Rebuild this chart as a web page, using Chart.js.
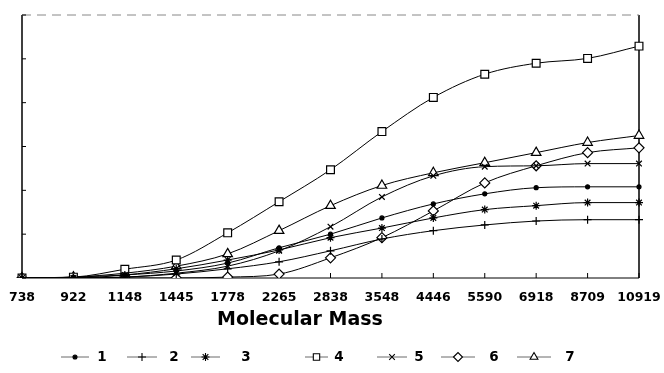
<!DOCTYPE html>
<html>
<head>
<meta charset="utf-8">
<script src="https://cdn.jsdelivr.net/npm/chart.js@4.4.1/dist/chart.umd.min.js"></script>
<style>
  html, body { margin: 0; padding: 0; background: #fff; }
  #wrap { width: 664px; height: 373px; }
</style>
</head>
<body>
<div id="wrap"><canvas id="chart" width="664" height="373"></canvas></div>
<script>
// molecular mass categories (x axis)
const massLabels = ["738", "922", "1148", "1445", "1778", "2265", "2838",
  "3548", "4446", "5590", "6918", "8709", "10919"]

// series values (y axis has no labels, 6 tick steps)
const series1 = [0, 0.02, 0.07, 0.16, 0.34, 0.69, 1.0, 1.37, 1.69, 1.92, 2.06, 2.08, 2.08]
const series2 = [0, 0, 0.02, 0.09, 0.21, 0.37, 0.62, 0.89, 1.08, 1.21, 1.30, 1.33, 1.33]
const series3 = [0, 0, 0.07, 0.21, 0.41, 0.64, 0.92, 1.14, 1.37, 1.56, 1.65, 1.72, 1.72]
const series4 = [0, 0.02, 0.2, 0.41, 1.03, 1.74, 2.47, 3.34, 4.12, 4.65, 4.9, 5.01, 5.29]
const series5 = [0, 0, 0.02, 0.11, 0.27, 0.62, 1.17, 1.85, 2.33, 2.54, 2.56, 2.61, 2.61]
const series6 = [0, 0, 0, 0, 0.02, 0.09, 0.46, 0.92, 1.53, 2.17, 2.56, 2.86, 2.97]
const series7 = [0, 0.02, 0.11, 0.27, 0.55, 1.08, 1.65, 2.11, 2.40, 2.63, 2.86, 3.09, 3.25]

const seriesNames = ["1", "2", "3", "4", "5", "6", "7"]
const yTicks = [0, 1, 2, 3, 4, 5, 6]

const markers = [
  { style: "circle", radius: 2, fill: "#000" },
  { style: "cross", radius: 4, fill: "#000" },
  { style: "star", radius: 4, fill: "#000" },
  { style: "rect", radius: 5.5, fill: "#fff" },
  { style: "crossRot", radius: 4, fill: "#000" },
  { style: "rectRot", radius: 5, fill: "#fff" },
  { style: "triangle", radius: 5.5, fill: "#fff" },
]

const allSeries = [series1, series2, series3, series4, series5, series6, series7]

const datasets = allSeries.map((values, i) => ({
  label: seriesNames[i],
  data: values,
  borderColor: "#000",
  borderWidth: 1,
  cubicInterpolationMode: "monotone",
  pointStyle: markers[i].style,
  pointRadius: markers[i].radius,
  pointBackgroundColor: markers[i].fill,
  pointBorderColor: "#000",
  pointBorderWidth: 1.2,
  fill: false,
}))

// frame, inward ticks, axis title and the old-style legend row
const decorations = {
  id: "decorations",
  beforeDatasetsDraw(chart) {
    const { ctx, chartArea: a, scales } = chart
    ctx.save()
    ctx.strokeStyle = "#000"
    // left + right axis lines
    ctx.lineWidth = 1.5
    ctx.beginPath()
    ctx.moveTo(a.left, a.top); ctx.lineTo(a.left, a.bottom)
    ctx.moveTo(a.right, a.top); ctx.lineTo(a.right, a.bottom)
    ctx.stroke()
    // bottom line
    ctx.lineWidth = 1
    ctx.beginPath()
    ctx.moveTo(a.left, a.bottom); ctx.lineTo(a.right, a.bottom)
    ctx.stroke()
    // faint top line
    ctx.strokeStyle = "#888"
    ctx.setLineDash([9, 6])
    ctx.beginPath()
    ctx.moveTo(a.left, a.top); ctx.lineTo(a.right, a.top)
    ctx.stroke()
    ctx.setLineDash([])
    ctx.strokeStyle = "#000"
    // y ticks pointing inward
    ctx.beginPath()
    yTicks.forEach(v => {
      const y = scales.y.getPixelForValue(v)
      ctx.moveTo(a.left, y); ctx.lineTo(a.left + 4, y)
    })
    // x ticks pointing up
    massLabels.forEach((_, i) => {
      const x = scales.x.getPixelForValue(i)
      ctx.moveTo(x, a.bottom); ctx.lineTo(x, a.bottom - 5)
    })
    ctx.stroke()
    ctx.restore()
  },
  afterDraw(chart) {
    const { ctx } = chart
    const helpers = Chart.helpers
    ctx.save()
    ctx.fillStyle = "#000"
    ctx.textAlign = "center"
    ctx.textBaseline = "middle"
    ctx.font = "bold 19px 'DejaVu Sans'"
    ctx.fillText("Molecular Mass", 300, 320)

    // legend: short line with the marker, then the name
    const lineStart = [61, 127, 191, 305, 377, 441, 517]
    const lineEnd = [89, 157, 220, 328, 407, 475, 551]
    const textX = [102, 174, 246, 339, 419, 494, 570]
    const y = 357
    ctx.font = "bold 13.5px 'DejaVu Sans'"
    seriesNames.forEach((name, i) => {
      ctx.strokeStyle = "#444"
      ctx.lineWidth = 0.8
      ctx.beginPath()
      ctx.moveTo(lineStart[i], y); ctx.lineTo(lineEnd[i], y)
      ctx.stroke()
      ctx.strokeStyle = "#000"
      ctx.fillStyle = markers[i].fill
      ctx.lineWidth = 1.1
      helpers.drawPoint(ctx, {
        pointStyle: markers[i].style,
        radius: Math.min(markers[i].radius, 4.5),
        rotation: 0,
        borderWidth: 1.1,
      }, (lineStart[i] + lineEnd[i]) / 2, y)
      ctx.fillStyle = "#000"
      ctx.fillText(name, textX[i], y)
    })
    ctx.restore()
  },
}

new Chart(document.getElementById("chart"), {
  type: "line",
  data: { labels: massLabels, datasets },
  options: {
    responsive: false,
    animation: false,
    devicePixelRatio: 1,
    layout: { padding: { left: 22, right: 25, top: 15, bottom: 56 } },
    plugins: {
      legend: { display: false },
      tooltip: { enabled: false },
    },
    scales: {
      x: {
        offset: false,
        grid: { display: false, drawTicks: false },
        border: { display: false },
        ticks: {
          color: "#000",
          padding: 12,
          maxRotation: 0,
          autoSkip: false,
          font: { family: "'DejaVu Sans'", weight: "bold", size: 12.5 },
        },
        // let the layout padding alone decide the plot edges
        afterFit: (scale) => {
          scale.paddingLeft = 0
          scale.paddingRight = 0
        },
      },
      y: {
        display: false,
        min: 0,
        max: 6,
      },
    },
  },
  plugins: [decorations],
})
</script>
</body>
</html>
